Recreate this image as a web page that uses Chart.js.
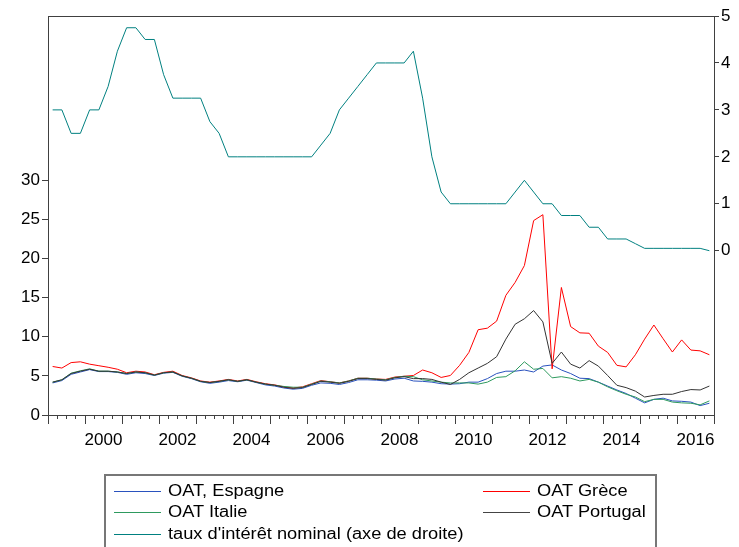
<!DOCTYPE html>
<html>
<head>
<meta charset="utf-8">
<script src="https://cdn.jsdelivr.net/npm/chart.js@4.4.0/dist/chart.umd.min.js"></script>
<style>
html, body { margin: 0; padding: 0; background: #fff; }
#wrap { position: relative; width: 739px; height: 547px; overflow: hidden; }
#legend {
    position: absolute; left: 104px; top: 474px; width: 553px; height: 90px;
    border: 2px solid #777; box-sizing: border-box;
    font-family: "Liberation Sans", Arial, sans-serif; font-size: 16px; color: #000;
}
.item { position: absolute; white-space: nowrap; line-height: 20px; }
.item .ln { display: inline-block; width: 47px; height: 0; border-top: 1px solid; vertical-align: middle; margin-right: 7px; }
.item .tx { display: inline-block; transform: scaleX(1.14); transform-origin: left center; }
</style>
</head>
<body>
<div id="wrap">
    <canvas id="myChart" width="739" height="547"></canvas>
    <div id="legend">
        <div class="item" style="left:8px; top:5px;"><span class="ln" style="border-color:#2a52be"></span><span class="tx">OAT, Espagne</span></div>
        <div class="item" style="left:377px; top:5px;"><span class="ln" style="border-color:#ff0000"></span><span class="tx">OAT Grèce</span></div>
        <div class="item" style="left:8px; top:26px;"><span class="ln" style="border-color:#2e9a5e"></span><span class="tx">OAT Italie</span></div>
        <div class="item" style="left:377px; top:26px;"><span class="ln" style="border-color:#444444"></span><span class="tx">OAT Portugal</span></div>
        <div class="item" style="left:8px; top:48px;"><span class="ln" style="border-color:#008080"></span><span class="tx">taux d'intérêt nominal (axe de droite)</span></div>
    </div>
</div>
<script>
// quarterly data, 1999T1 .. 2016T4
const firstYear = 1999;
const nQuarters = 72;

const oatEspagne = [
    4.1, 4.4, 5.2, 5.5, 5.8, 5.55, 5.55, 5.45, 5.2, 5.4, 5.3, 5.05, 5.35, 5.45, 4.95, 4.65,
    4.25, 4.05, 4.2, 4.4, 4.25, 4.45, 4.15, 3.85, 3.7, 3.45, 3.3, 3.4, 3.8, 4.1, 4.05, 3.9,
    4.15, 4.5, 4.5, 4.45, 4.35, 4.6, 4.7, 4.35, 4.3, 4.2, 4.0, 3.95, 4.0, 4.2, 4.2, 4.65,
    5.3, 5.6, 5.6, 5.75, 5.5, 6.25, 6.4, 5.75, 5.3, 4.7, 4.65, 4.2, 3.7, 3.2, 2.75, 2.15,
    1.55, 2.0, 2.15, 1.8, 1.75, 1.65, 1.2, 1.5
];
const oatGrece = [
    6.2, 6.0, 6.7, 6.8, 6.5, 6.3, 6.1, 5.85, 5.4, 5.6, 5.5, 5.15, 5.45, 5.6, 5.05, 4.75,
    4.35, 4.2, 4.35, 4.55, 4.35, 4.55, 4.25, 4.0, 3.85, 3.6, 3.45, 3.6, 4.0, 4.4, 4.25, 4.1,
    4.35, 4.7, 4.7, 4.6, 4.55, 4.85, 4.95, 5.05, 5.75, 5.4, 4.8, 5.05, 6.35, 8.0, 10.9, 11.1,
    12.0, 15.3, 16.95, 19.1, 24.85, 25.6, 5.9, 16.3, 11.3, 10.5, 10.45, 8.8, 8.0, 6.35, 6.15, 7.7,
    9.7, 11.5, 9.75, 8.05, 9.6, 8.3, 8.2, 7.7
];
const oatItalie = [
    4.2, 4.5, 5.35, 5.65, 5.9, 5.6, 5.6, 5.5, 5.3, 5.5, 5.4, 5.1, 5.4, 5.5, 5.0, 4.7,
    4.3, 4.15, 4.3, 4.5, 4.3, 4.5, 4.2, 3.95, 3.8, 3.65, 3.55, 3.55, 3.95, 4.35, 4.25, 4.1,
    4.35, 4.7, 4.7, 4.6, 4.5, 4.8, 4.95, 4.9, 4.5, 4.35, 4.2, 4.1, 4.1, 4.1, 3.95, 4.2,
    4.8, 4.9, 5.65, 6.8, 5.85, 5.95, 4.75, 4.9, 4.7, 4.35, 4.55, 4.2, 3.6, 3.1, 2.65, 2.3,
    1.7, 2.0, 2.0, 1.65, 1.55, 1.5, 1.3, 1.8
];
const oatPortugal = [
    4.2, 4.5, 5.3, 5.6, 5.85, 5.6, 5.6, 5.5, 5.3, 5.5, 5.4, 5.1, 5.4, 5.5, 5.0, 4.7,
    4.3, 4.15, 4.3, 4.5, 4.3, 4.5, 4.2, 3.95, 3.8, 3.55, 3.4, 3.5, 3.9, 4.3, 4.2, 4.05,
    4.3, 4.65, 4.65, 4.55, 4.45, 4.75, 4.9, 4.65, 4.65, 4.55, 4.2, 3.9, 4.55, 5.4, 6.0, 6.6,
    7.45, 9.7, 11.6, 12.3, 13.35, 11.9, 6.6, 8.05, 6.5, 6.0, 6.95, 6.25, 5.05, 3.8, 3.5, 3.05,
    2.3, 2.5, 2.65, 2.65, 3.0, 3.25, 3.2, 3.7
];
// right axis
const tauxNominal = [
    3.0, 3.0, 2.5, 2.5, 3.0, 3.0, 3.5, 4.25, 4.75, 4.75, 4.5, 4.5, 3.75, 3.25, 3.25, 3.25,
    3.25, 2.75, 2.5, 2.0, 2.0, 2.0, 2.0, 2.0, 2.0, 2.0, 2.0, 2.0, 2.0, 2.25, 2.5, 3.0,
    3.25, 3.5, 3.75, 4.0, 4.0, 4.0, 4.0, 4.25, 3.25, 2.0, 1.25, 1.0, 1.0, 1.0, 1.0, 1.0,
    1.0, 1.0, 1.25, 1.5, 1.25, 1.0, 1.0, 0.75, 0.75, 0.75, 0.5, 0.5, 0.25, 0.25, 0.25, 0.15,
    0.05, 0.05, 0.05, 0.05, 0.05, 0.05, 0.05, 0.0
];

const leftTicks = [0, 5, 10, 15, 20, 25, 30];
const rightTicks = [0, 1, 2, 3, 4, 5];

function toPoints(arr) {
    // each value sits in the middle of its quarter
    return arr.map((v, i) => ({ x: firstYear + (i + 0.5) / 4, y: v }));
}

const axisColor = '#404040';
const tickFont = { family: '"Liberation Sans", Arial, sans-serif', size: 17 };

// top border of the frame + long ticks at each year start
const framePlugin = {
    id: 'frame',
    afterDraw(chart) {
        const c = chart.ctx, a = chart.chartArea, x = chart.scales.x;
        c.save();
        c.strokeStyle = axisColor;
        c.lineWidth = 1;
        c.beginPath();
        c.moveTo(a.left, a.top + 0.5);
        c.lineTo(a.right, a.top + 0.5);
        for (let yr = firstYear; yr <= firstYear + nQuarters / 4; yr++) {
            const px = Math.round(x.getPixelForValue(yr)) + 0.5;
            c.moveTo(px, a.bottom);
            c.lineTo(px, a.bottom + 9);
        }
        c.stroke();
        c.restore();
    }
};

const ctx = document.getElementById('myChart');
new Chart(ctx, {
    type: 'line',
    data: {
        datasets: [
            { label: 'OAT, Espagne', data: toPoints(oatEspagne), borderColor: '#2a52be', yAxisID: 'y', order: 5 },
            { label: 'OAT Grèce', data: toPoints(oatGrece), borderColor: '#ff0000', yAxisID: 'y', order: 4 },
            { label: 'OAT Italie', data: toPoints(oatItalie), borderColor: '#2e9a5e', yAxisID: 'y', order: 3 },
            { label: 'OAT Portugal', data: toPoints(oatPortugal), borderColor: '#333333', yAxisID: 'y', order: 2 },
            { label: "taux d'intérêt nominal (axe de droite)", data: toPoints(tauxNominal), borderColor: '#008080', yAxisID: 'y2', order: 1 }
        ]
    },
    options: {
        responsive: false,
        animation: false,
        layout: { padding: { top: 16, left: 0, right: 0, bottom: 0 } },
        elements: {
            point: { radius: 0 },
            line: { borderWidth: 1, tension: 0 }
        },
        plugins: {
            legend: { display: false },
            tooltip: { enabled: false }
        },
        scales: {
            x: {
                type: 'linear',
                min: firstYear,
                max: firstYear + nQuarters / 4,
                afterBuildTicks: s => {
                    const t = [];
                    for (let k = 0; k <= nQuarters; k++) t.push({ value: firstYear + k / 4 });
                    s.ticks = t;
                },
                afterFit: s => { s.height = 132; },
                grid: { drawOnChartArea: false, tickLength: 4, color: axisColor },
                border: { color: axisColor },
                ticks: {
                    autoSkip: false,
                    maxRotation: 0,
                    padding: 11,
                    color: '#000',
                    font: tickFont,
                    callback: v => {
                        const yr = Math.floor(v);
                        return (v - yr === 0.5 && yr % 2 === 0) ? String(yr) : '';
                    }
                }
            },
            y: {
                position: 'left',
                min: 0,
                max: 51,
                afterBuildTicks: s => { s.ticks = leftTicks.map(v => ({ value: v })); },
                afterFit: s => { s.width = 48; },
                grid: { drawOnChartArea: false, tickLength: 6, color: axisColor },
                border: { color: axisColor },
                ticks: { padding: 2, color: '#000', font: tickFont }
            },
            y2: {
                position: 'right',
                min: -3.5,
                max: 5,
                afterBuildTicks: s => { s.ticks = rightTicks.map(v => ({ value: v })); },
                afterFit: s => { s.width = 25; },
                grid: { drawOnChartArea: false, tickLength: 5, color: axisColor },
                border: { color: axisColor },
                ticks: { padding: 2, color: '#000', font: tickFont }
            }
        }
    },
    plugins: [framePlugin]
});
</script>
</body>
</html>
